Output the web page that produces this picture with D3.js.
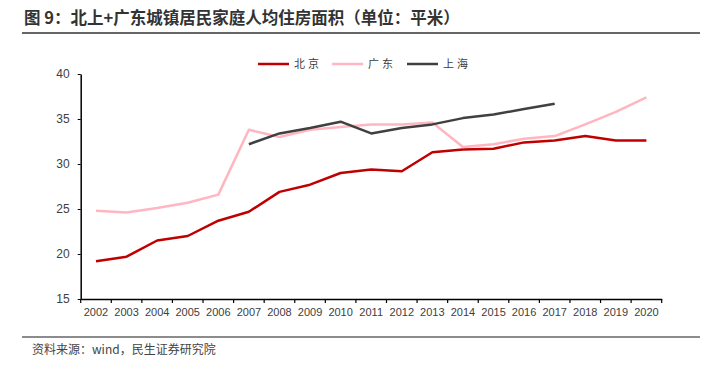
<!DOCTYPE html>
<html><head><meta charset="utf-8">
<script src="https://cdn.jsdelivr.net/npm/d3@7"></script>
<style>body{margin:0;background:#fff}svg{display:block}</style>
</head><body>
<script>
const years = ["2002","2003","2004","2005","2006","2007","2008","2009","2010","2011","2012","2013","2014","2015","2016","2017","2018","2019","2020"];
const beijing = [19.2,19.7,21.5,22.0,23.7,24.7,26.9,27.7,29.0,29.4,29.2,31.3,31.6,31.7,32.4,32.6,33.1,32.6,32.6];
const guangdong = [24.8,24.6,25.1,25.7,26.6,33.8,33.0,33.8,34.1,34.4,34.4,34.6,31.9,32.2,32.8,33.1,34.4,35.8,37.4];
const shanghai = [null,null,null,null,null,32.2,33.4,34.0,34.7,33.4,34.0,34.4,35.1,35.5,36.1,36.7,null,null,null];
const yTicks = [15,20,25,30,35,40];
const seriesNames = ["北京","广东","上海"];
const seriesColors = ["#C00000","#FFB6C1","#404040"];

const W=719,H=366;
const svg=d3.select("body").append("svg").attr("width",W).attr("height",H);
const font="'Noto Sans CJK SC','Noto Sans',sans-serif";

svg.append("text").attr("x",24).attr("y",24).attr("font-family",font).attr("font-weight","bold")
  .attr("font-size",16.5).attr("fill","#333").text("图 9：北上+广东城镇居民家庭人均住房面积（单位：平米）");
svg.append("line").attr("x1",22).attr("x2",700).attr("y1",33).attr("y2",33).attr("stroke","#666").attr("stroke-width",2);
svg.append("line").attr("x1",22).attr("x2",700).attr("y1",337).attr("y2",337).attr("stroke","#666").attr("stroke-width",1.5);
svg.append("text").attr("x",32).attr("y",354).attr("font-family",font).attr("font-size",12).attr("fill","#444")
  .text("资料来源：wind，民生证券研究院");

const x=d3.scaleBand().domain(years).range([80.7,661.7]);
const y=d3.scaleLinear().domain([15,40]).range([299,74]);

const gy=svg.append("g").attr("transform","translate(80.7,0)")
  .call(d3.axisLeft(y).tickValues(yTicks).tickSize(3).tickPadding(8).tickSizeOuter(0));
gy.select(".domain").attr("stroke","#000").attr("stroke-width",1.5);
gy.selectAll(".tick line").attr("stroke","#000");
gy.selectAll("text").attr("font-family","'Liberation Sans',Arial,sans-serif").attr("font-size",12).attr("fill","#404040");

const gx=svg.append("g").attr("transform","translate(0,299)")
  .call(d3.axisBottom(x).tickSizeInner(0).tickSizeOuter(0).tickPadding(9));
gx.select(".domain").attr("stroke","#000").attr("stroke-width",1.5);
gx.selectAll("text").attr("font-family","'Liberation Sans',Arial,sans-serif").attr("font-size",11).attr("fill","#404040");
const bounds=years.map(d=>x(d)).concat([x.range()[1]]);
gx.selectAll(".bt").data(bounds).enter().append("line").attr("x1",d=>d).attr("x2",d=>d)
  .attr("y1",0).attr("y2",4).attr("stroke","#000").attr("stroke-width",1.2);

const line=d3.line().defined(d=>d.v!=null).x(d=>x(d.k)+x.bandwidth()/2).y(d=>y(d.v));
[beijing,guangdong,shanghai].forEach((s,i)=>{
  const data=years.map((k,j)=>({k,v:s[j]}));
  svg.append("path").datum(data).attr("d",line).attr("fill","none")
    .attr("stroke",seriesColors[i]).attr("stroke-width",2.5).attr("stroke-linejoin","round");
});

const legX=[258,332,407];
seriesNames.forEach((n,i)=>{
  svg.append("line").attr("x1",legX[i]).attr("x2",legX[i]+31).attr("y1",64).attr("y2",64)
    .attr("stroke",seriesColors[i]).attr("stroke-width",2.5);
  svg.append("text").attr("x",legX[i]+36).attr("y",68).attr("font-family",font).attr("font-size",11)
    .attr("letter-spacing",3).attr("fill","#404040").text(n);
});
</script>
</body></html>
